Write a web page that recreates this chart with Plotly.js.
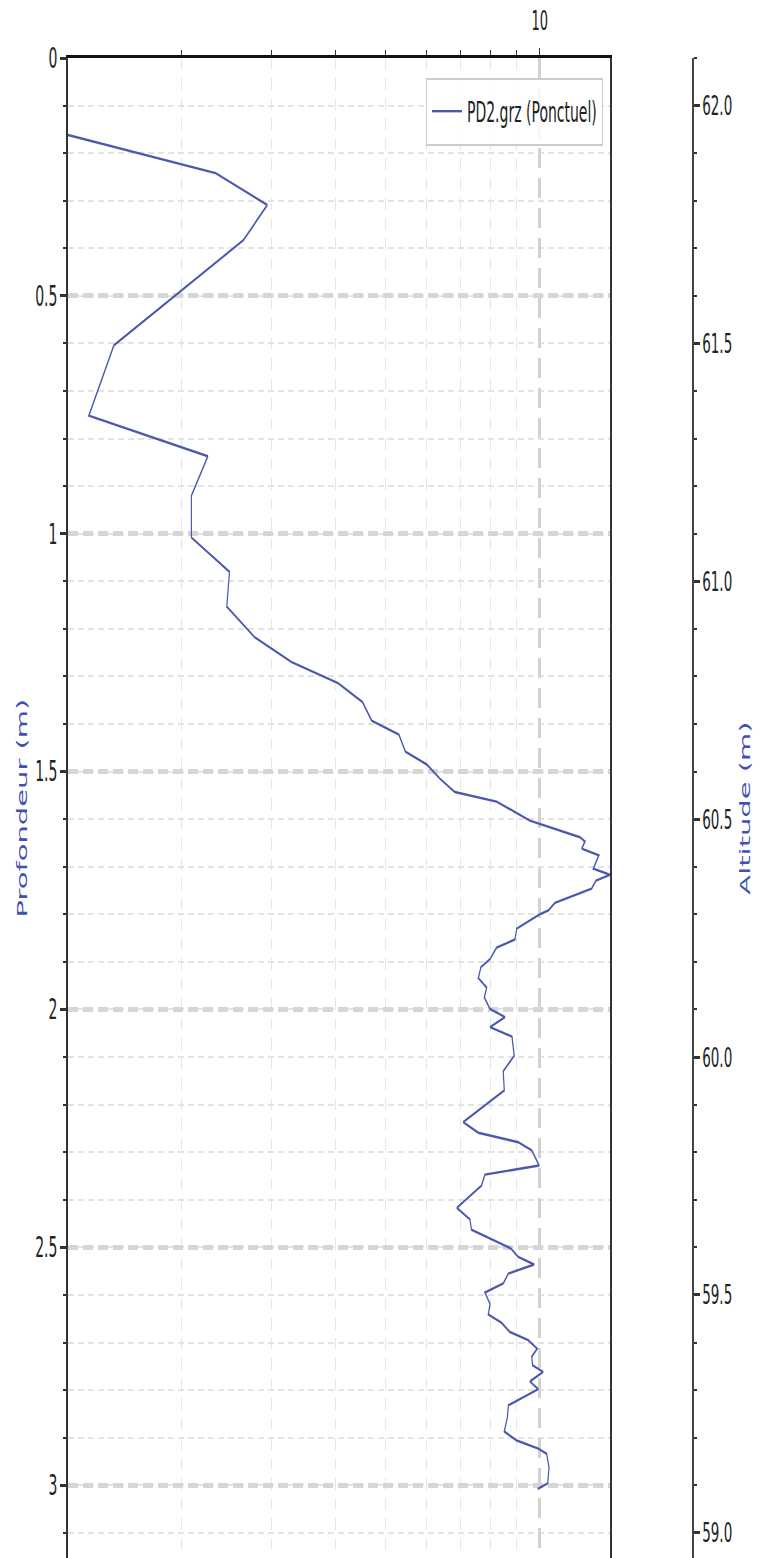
<!DOCTYPE html>
<html>
<head>
<meta charset="utf-8">
<script src="https://cdn.plot.ly/plotly-3.0.1.min.js"></script>
<style>
  html, body { margin: 0; padding: 0; background: #ffffff; overflow: hidden; }
  #wrap { width: 765px; height: 1558px; overflow: hidden; }
  /* the reference figure is a plot stretched 2x vertically */
  #chart { width: 765px; height: 779px; transform: scaleY(2); transform-origin: 0 0; }
</style>
</head>
<body>
<div id="wrap"><div id="chart"></div></div>
<script>
// ---- data ----
const seriesName = 'PD2.grz (Ponctuel)';
const depth = [
  0.162, 0.242, 0.309, 0.383, 0.604, 0.752, 0.837, 0.920, 1.008, 1.080,
  1.153, 1.218, 1.270, 1.314, 1.354, 1.393, 1.422, 1.458, 1.485, 1.515,
  1.543, 1.563, 1.603, 1.631, 1.638, 1.647, 1.662, 1.676, 1.704, 1.717,
  1.729, 1.746, 1.776, 1.792, 1.800, 1.830, 1.853, 1.870, 1.894, 1.911,
  1.934, 1.954, 1.975, 1.999, 2.016, 2.037, 2.057, 2.097, 2.130, 2.170,
  2.209, 2.237, 2.259, 2.279, 2.296, 2.328, 2.347, 2.370, 2.417, 2.441,
  2.463, 2.502, 2.520, 2.536, 2.555, 2.576, 2.595, 2.619, 2.641, 2.659,
  2.678, 2.695, 2.713, 2.730, 2.748, 2.762, 2.782, 2.798, 2.832, 2.857,
  2.887, 2.906, 2.923, 2.934, 2.963, 2.996, 3.008
];
const values = [
  1.20, 2.33, 2.94, 2.64, 1.475, 1.318, 2.25, 2.09, 2.09, 2.48,
  2.45, 2.78, 3.28, 4.04, 4.51, 4.70, 5.31, 5.47, 6.02, 6.39,
  6.83, 8.24, 9.57, 11.55, 11.99, 12.26, 12.08, 13.05, 12.73, 13.72,
  12.88, 12.63, 10.71, 10.39, 10.00, 9.02, 8.95, 8.24, 8.00, 7.68,
  7.59, 7.88, 7.80, 8.00, 8.56, 8.00, 8.83, 8.92, 8.49, 8.53,
  7.64, 7.09, 7.59, 9.08, 9.65, 9.98, 7.82, 7.70, 6.89, 7.31,
  7.36, 8.78, 9.08, 9.76, 8.69, 8.49, 7.82, 8.00, 7.94, 8.43,
  8.75, 9.50, 9.89, 9.65, 9.69, 10.16, 9.57, 9.94, 8.69, 8.65,
  8.53, 9.02, 9.94, 10.32, 10.43, 10.37, 9.91
];
const depthTickVals = [0, 0.5, 1, 1.5, 2, 2.5, 3];
const depthTickText = ['0', '0.5', '1', '1.5', '2', '2.5', '3'];
const xMajorTicks = [10];
const xMajorText = ['10'];
const xMinorTicks = [2, 3, 4, 5, 6, 7, 8, 9];
const altitudeTop = 62.1;
const depthMax = 3.153;

// ---- styling ----
const font = '"DejaVu Sans", "Liberation Sans", sans-serif';
const lineBlue = '#4a58ae';
const titleBlue = '#3f51b5';

const xMin = Math.min(...values);
const xMax = Math.max(...values);

const traces = [{
  type: 'scatter',
  mode: 'lines',
  name: seriesName,
  x: values,
  y: depth,
  xaxis: 'x',
  yaxis: 'y',
  line: { color: lineBlue, width: 1.2 },
  hoverinfo: 'skip'
}, {
  type: 'scatter',
  mode: 'lines',
  x: values,
  y: depth.map(d => altitudeTop - d),
  xaxis: 'x',
  yaxis: 'y2',
  line: { color: 'rgba(0,0,0,0)', width: 0 },
  showlegend: false,
  hoverinfo: 'skip'
}];

const layout = {
  width: 765,
  height: 779,
  margin: { l: 68, r: 73, t: 28.5, b: 0, pad: 0 },
  paper_bgcolor: '#ffffff',
  plot_bgcolor: '#ffffff',
  showlegend: true,
  hovermode: false,
  xaxis: {
    type: 'log',
    side: 'top',
    domain: [0, 542 / 624],
    range: [Math.log10(xMin), Math.log10(xMax)],
    tickmode: 'array',
    tickvals: xMajorTicks,
    ticktext: xMajorText,
    ticks: 'outside',
    ticklen: 3.5,
    tickwidth: 1.5,
    tickcolor: '#333333',
    ticklabelstandoff: 4,
    tickfont: { family: font, size: 13, color: '#222222' },
    showline: true,
    linecolor: '#111111',
    linewidth: 1.5,
    mirror: false,
    showgrid: true,
    gridcolor: '#d2d2d2',
    gridwidth: 2.6,
    griddash: '10px,5px',
    zeroline: false,
    minor: {
      tickmode: 'array',
      tickvals: xMinorTicks,
      ticks: 'outside',
      ticklen: 2.5,
      tickwidth: 1,
      tickcolor: '#333333',
      showgrid: true,
      gridcolor: '#e6e6e6',
      gridwidth: 1,
      griddash: '6px,4px'
    }
  },
  yaxis: {
    range: [depthMax, 0],
    tickmode: 'array',
    tickvals: depthTickVals,
    ticktext: depthTickText,
    ticks: 'outside',
    ticklen: 6,
    tickwidth: 1.5,
    tickcolor: '#333333',
    tickfont: { family: font, size: 14, color: '#222222' },
    showline: true,
    linecolor: '#333333',
    linewidth: 1.8,
    mirror: true,
    showgrid: true,
    gridcolor: '#d6d6d6',
    gridwidth: 2.4,
    griddash: '10px,5px',
    zeroline: false,
    title: { text: 'Profondeur (m)', font: { family: font, size: 14.5, color: titleBlue }, standoff: 4 },
    minor: {
      dtick: 0.1,
      tick0: 0,
      ticks: 'outside',
      ticklen: 3,
      tickwidth: 1,
      tickcolor: '#333333',
      showgrid: true,
      gridcolor: '#e3e3e3',
      gridwidth: 1,
      griddash: '6px,4px'
    }
  },
  yaxis2: {
    overlaying: 'y',
    anchor: 'free',
    position: 1,
    side: 'right',
    range: [altitudeTop - depthMax, altitudeTop],
    tickmode: 'linear',
    tick0: 59,
    dtick: 0.5,
    tickformat: '.1f',
    ticks: 'outside',
    ticklen: 6,
    tickwidth: 1.5,
    tickcolor: '#333333',
    tickfont: { family: font, size: 13.5, color: '#222222' },
    showline: true,
    linecolor: '#444444',
    linewidth: 1.5,
    showgrid: false,
    zeroline: false,
    title: { text: 'Altitude (m)', font: { family: font, size: 14.5, color: titleBlue }, standoff: 8 },
    minor: {
      dtick: 0.1,
      tick0: 59,
      ticks: 'outside',
      ticklen: 3,
      tickwidth: 1,
      tickcolor: '#333333',
      showgrid: false
    }
  },
  legend: {
    x: (603 - 68) / 624,
    y: (779 - 38.5) / 750.5,
    xanchor: 'right',
    yanchor: 'top',
    bgcolor: 'rgba(255,255,255,0.85)',
    bordercolor: '#cccccc',
    borderwidth: 1,
    font: { family: font, size: 14, color: '#222222' },
    itemwidth: 30,
    tracegroupgap: 0
  }
};

Plotly.newPlot('chart', traces, layout, { displayModeBar: false, staticPlot: true });
</script>
</body>
</html>
